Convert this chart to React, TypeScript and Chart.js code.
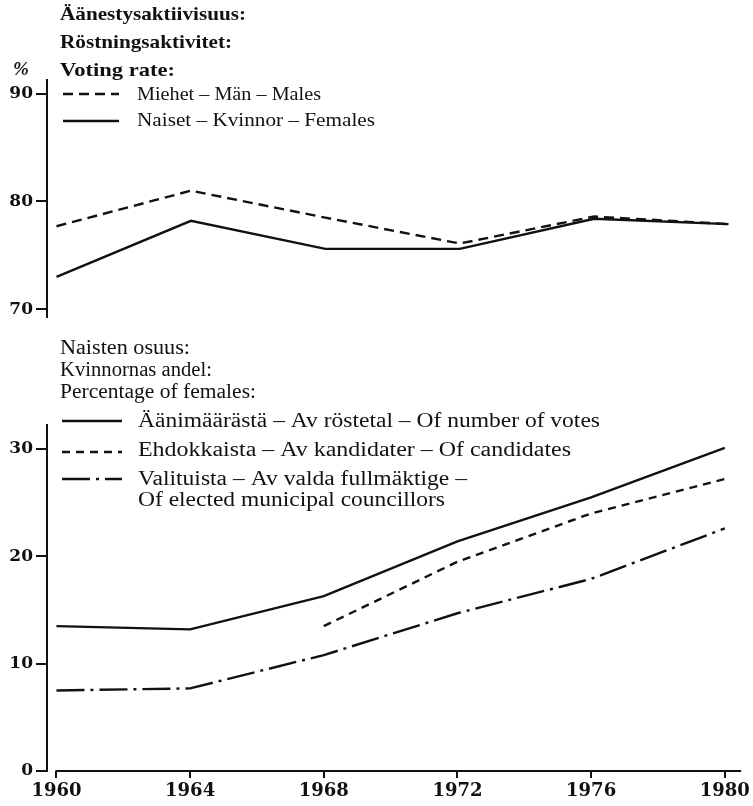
import React, { useEffect, useRef } from "react";
import { Chart, registerables } from "chart.js";

Chart.register(...registerables);

// ---------- data ----------
const years = [1960, 1964, 1968, 1972, 1976, 1980];
const malesVoting = [77.7, 81.0, 78.5, 76.1, 78.6, 77.9];
const femalesVoting = [73.0, 78.2, 75.6, 75.6, 78.4, 77.9];
const shareOfVotes = [13.5, 13.2, 16.3, 21.4, 25.5, 30.1];
const shareOfCandidates = [null, null, 13.5, 19.5, 24.0, 27.2];
const shareOfElected = [7.5, 7.7, 10.8, 14.7, 17.9, 22.6];
const topTicks = [70, 80, 90];
const bottomTicks = [0, 10, 20, 30];
const unitLabel = "%";
const topHeading = ["Äänestysaktiivisuus:", "Röstningsaktivitet:", "Voting rate:"];
const topLegend = ["Miehet – Män – Males", "Naiset – Kvinnor – Females"];
const bottomHeading = ["Naisten osuus:", "Kvinnornas andel:", "Percentage of females:"];
const bottomLegend = [
  "Äänimäärästä – Av röstetal – Of number of votes",
  "Ehdokkaista – Av kandidater – Of candidates",
  "Valituista – Av valda fullmäktige –",
  "Of elected municipal councillors",
];

// ---------- styles ----------
const INK = "#111";
const FONT = "'DejaVu Serif', 'Liberation Serif', serif";
const TFONT = "'Liberation Serif', 'DejaVu Serif', serif";
const DASH = [10, 6];
const DASH_B = [8, 6];
const DASH_DOT = [28, 6, 3, 6];
const X_MIN = 1959.717;
const X_MAX = 1980.49;

const pts = (vals: (number | null)[]) =>
  years
    .map((x, i) => ({ x, y: vals[i] }))
    .filter((p) => p.y !== null) as { x: number; y: number }[];

function fitText(ctx: CanvasRenderingContext2D, text: string, x: number, y: number, w: number, font: string) {
  ctx.save();
  ctx.font = font;
  ctx.textBaseline = "middle";
  ctx.textAlign = "left";
  ctx.fillStyle = INK;
  const m = ctx.measureText(text).width;
  ctx.translate(x, y);
  ctx.scale(w / m, 1);
  ctx.fillText(text, 0, 0);
  ctx.restore();
}

function sample(ctx: CanvasRenderingContext2D, x1: number, x2: number, y: number, dash: number[]) {
  ctx.save();
  ctx.strokeStyle = INK;
  ctx.lineWidth = 2.4;
  ctx.setLineDash(dash);
  ctx.beginPath();
  ctx.moveTo(x1, y);
  ctx.lineTo(x2, y);
  ctx.stroke();
  ctx.restore();
}

const yAxisCommon = (min: number, max: number, ticks: number[]) => ({
  type: "linear" as const,
  min,
  max,
  afterFit: (s: any) => {
    s.width = 47;
  },
  afterBuildTicks: (s: any) => {
    s.ticks = ticks.map((v) => ({ value: v }));
  },
  ticks: {
    color: INK,
    padding: 3,
    font: { family: FONT, size: 17, weight: "bold" as const },
    callback: (v: any) => String(v),
  },
  grid: { drawOnChartArea: false, drawTicks: true, tickLength: 11, color: INK, lineWidth: 2 },
  border: { display: true, color: INK, width: 2 },
});

export default function App() {
  const topRef = useRef<HTMLCanvasElement>(null);
  const botRef = useRef<HTMLCanvasElement>(null);

  useEffect(() => {
    document.body.style.margin = "0";
    document.body.style.background = "#fff";

    const topText = {
      id: "topText",
      afterDraw(chart: any) {
        const ctx = chart.ctx as CanvasRenderingContext2D;
        ctx.save();
        ctx.font = `italic bold 19px ${TFONT}`;
        ctx.fillStyle = INK;
        ctx.textAlign = "center";
        ctx.textBaseline = "middle";
        ctx.fillText(unitLabel, 21, 70);
        ctx.restore();
        const hw = [186, 172, 115];
        topHeading.forEach((t, i) => fitText(ctx, t, 60, 15 + i * 28, hw[i], `bold 19px ${TFONT}`));
        sample(ctx, 63, 119, 94, DASH);
        sample(ctx, 63, 119, 121, []);
        const lw = [184, 238];
        topLegend.forEach((t, i) => fitText(ctx, t, 137, 95 + i * 26, lw[i], `19px ${TFONT}`));
      },
    };

    const botText = {
      id: "botText",
      afterDraw(chart: any) {
        const ctx = chart.ctx as CanvasRenderingContext2D;
        const off = 330;
        const hw = [130, 152, 196];
        bottomHeading.forEach((t, i) => fitText(ctx, t, 60, 349 + i * 22 - off, hw[i], `20px ${TFONT}`));
        sample(ctx, 62, 122, 421 - off, []);
        sample(ctx, 62, 122, 452 - off, DASH_B);
        sample(ctx, 62, 122, 479 - off, DASH_DOT);
        const lw = [462, 433, 329, 307];
        const ly = [422, 451, 480, 501];
        bottomLegend.forEach((t, i) => fitText(ctx, t, 138, ly[i] - off, lw[i], `20px ${TFONT}`));
        // x axis baseline starting at the first year
        const xs = chart.scales.x;
        const y = chart.chartArea.bottom;
        ctx.save();
        ctx.strokeStyle = INK;
        ctx.lineWidth = 2;
        ctx.beginPath();
        ctx.moveTo(xs.getPixelForValue(years[0]) - 1, y);
        ctx.lineTo(chart.chartArea.right, y);
        ctx.stroke();
        ctx.restore();
      },
    };

    const lineDs = (data: any, dash: number[]) => ({
      data,
      borderColor: INK,
      borderWidth: 2.4,
      borderDash: dash,
      pointRadius: 0,
      tension: 0,
      fill: false,
    });

    const top = new Chart(topRef.current!, {
      type: "line",
      data: {
        datasets: [lineDs(pts(malesVoting), DASH), lineDs(pts(femalesVoting), [])],
      },
      options: {
        animation: false,
        responsive: false,
        parsing: false,
        layout: { padding: { left: 0, top: 80, right: 8, bottom: 8 } },
        plugins: { legend: { display: false }, tooltip: { enabled: false } },
        scales: {
          x: { type: "linear", min: X_MIN, max: X_MAX, display: false },
          y: yAxisCommon(69.3, 91.27, topTicks),
        },
      },
      plugins: [topText],
    } as any);

    const bot = new Chart(botRef.current!, {
      type: "line",
      data: {
        datasets: [
          lineDs(pts(shareOfVotes), []),
          lineDs(pts(shareOfCandidates), DASH_B),
          lineDs(pts(shareOfElected), DASH_DOT),
        ],
      },
      options: {
        animation: false,
        responsive: false,
        parsing: false,
        layout: { padding: { left: 0, top: 95, right: 8, bottom: 0 } },
        plugins: { legend: { display: false }, tooltip: { enabled: false } },
        scales: {
          x: {
            type: "linear",
            min: X_MIN,
            max: X_MAX,
            afterFit: (s: any) => {
              s.height = 35;
            },
            afterBuildTicks: (s: any) => {
              s.ticks = years.map((v) => ({ value: v }));
            },
            ticks: {
              color: INK,
              padding: 3,
              maxRotation: 0,
              autoSkip: false,
              font: { family: FONT, size: 18, weight: "bold" as const },
              callback: (v: any) => String(v),
            },
            grid: { drawOnChartArea: false, drawTicks: true, tickLength: 7, color: INK, lineWidth: 2 },
            border: { display: false },
          },
          y: yAxisCommon(0, 32.24, bottomTicks),
        },
      },
      plugins: [botText],
    } as any);

    return () => {
      top.destroy();
      bot.destroy();
    };
  }, []);

  return (
    <div style={{ position: "absolute", left: 0, top: 0, width: 753, height: 806, background: "#fff" }}>
      <canvas ref={topRef} width={753} height={330} style={{ position: "absolute", left: 0, top: 0, width: 753, height: 330 }} />
      <canvas ref={botRef} width={753} height={476} style={{ position: "absolute", left: 0, top: 330, width: 753, height: 476 }} />
    </div>
  );
}
